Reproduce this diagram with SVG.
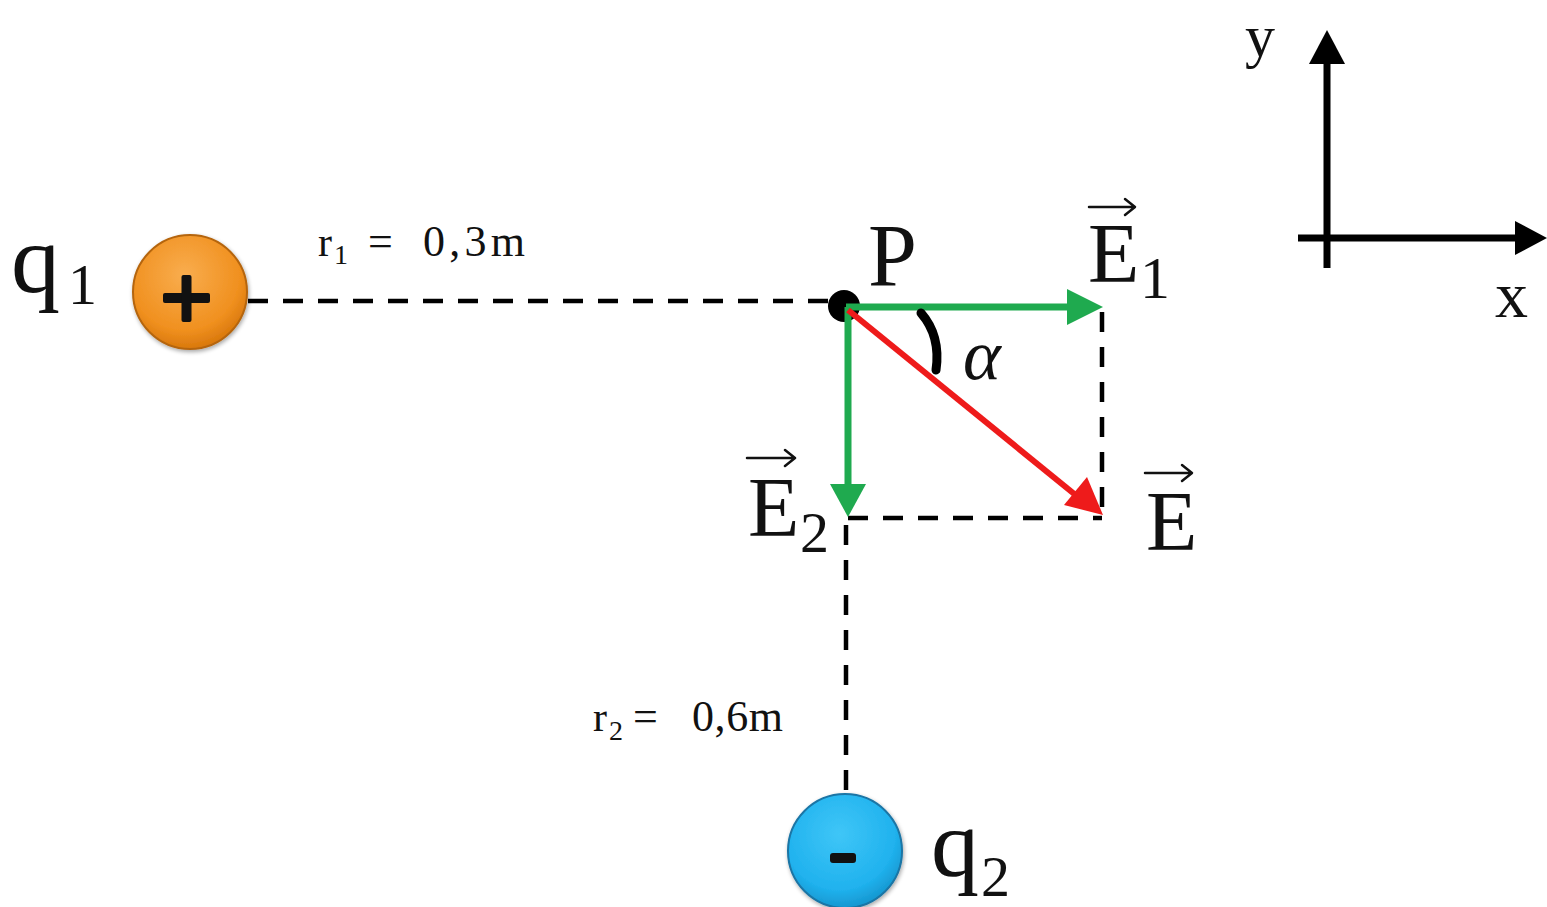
<svg xmlns="http://www.w3.org/2000/svg" width="1547" height="907" viewBox="0 0 1547 907">
  <defs>
    <radialGradient id="gOrange" cx="0.45" cy="0.35" r="0.65">
      <stop offset="0" stop-color="#f9ad4e"/>
      <stop offset="0.75" stop-color="#f0901f"/>
      <stop offset="1" stop-color="#d9780c"/>
    </radialGradient>
    <radialGradient id="gBlue" cx="0.45" cy="0.35" r="0.65">
      <stop offset="0" stop-color="#3fc6f7"/>
      <stop offset="0.75" stop-color="#20b2ee"/>
      <stop offset="1" stop-color="#1697d0"/>
    </radialGradient>
    <filter id="shadow" x="-20%" y="-20%" width="140%" height="140%">
      <feGaussianBlur in="SourceAlpha" stdDeviation="2"/>
      <feOffset dx="1" dy="2" result="b"/>
      <feComponentTransfer><feFuncA type="linear" slope="0.35"/></feComponentTransfer>
      <feMerge><feMergeNode/><feMergeNode in="SourceGraphic"/></feMerge>
    </filter>
  </defs>
  <style>
    .t { font-family: "Liberation Serif", "DejaVu Serif", serif; fill: #111; }
    .dash { stroke: #000; stroke-width: 4.5; stroke-dasharray: 20 15; fill: none; }
    .green { stroke: #1faa4f; stroke-width: 7; fill: none; }
    .greenHead { fill: #1faa4f; }
    .red { stroke: #ee1b1b; stroke-width: 6; fill: none; }
    .redHead { fill: #ee1b1b; }
    .axis { stroke: #000; stroke-width: 7; fill: none; }
    .vec { stroke: #111; stroke-width: 2.5; fill: none; stroke-linecap: round; stroke-linejoin: round; }
  </style>
  <rect width="1547" height="907" fill="#fff"/>

  <g id="connectors">
    <line class="dash" x1="248" y1="301" x2="836" y2="301"/>
    <line class="dash" x1="1102" y1="312" x2="1102" y2="518"/>
    <line class="dash" x1="848" y1="518" x2="1102" y2="518"/>
    <line class="dash" x1="846" y1="525" x2="846" y2="795"/>
  </g>

  <g id="q1">
    <circle cx="190" cy="292" r="57" fill="url(#gOrange)" stroke="#b5650f" stroke-width="2" filter="url(#shadow)"/>
    <rect x="163" y="293" width="47" height="10" rx="2" fill="#111"/>
    <rect x="181.5" y="275" width="10" height="47" rx="2" fill="#111"/>
    <text class="t" x="11" y="292" font-size="98">q</text>
    <text class="t" x="68" y="304" font-size="58">1</text>
  </g>

  <g id="r1-label">
    <text class="t" x="318" y="256" font-size="42">r</text>
    <text class="t" x="334" y="264" font-size="28">1</text>
    <text class="t" x="368" y="256" font-size="44">=</text>
    <text class="t" x="423" y="256" font-size="44" textLength="102">0,3m</text>
  </g>

  <g id="P">
    <circle cx="844" cy="306" r="16" fill="#000"/>
    <text class="t" x="868" y="285" font-size="88">P</text>
  </g>

  <g id="E1">
    <line class="green" x1="846" y1="307" x2="1070" y2="307"/>
    <polygon class="greenHead" points="1103,307 1067,289 1067,325"/>
    <text class="t" x="1088" y="282" font-size="84">E</text>
    <text class="t" x="1140" y="298" font-size="60">1</text>
    <path class="vec" d="M1089 207 H1134 M1125 199 L1135 207 L1125 215"/>
  </g>

  <g id="E2">
    <line class="green" x1="848" y1="307" x2="848" y2="488"/>
    <polygon class="greenHead" points="848,517 830,484 866,484"/>
    <text class="t" x="748" y="536" font-size="84">E</text>
    <text class="t" x="800" y="552" font-size="58">2</text>
    <path class="vec" d="M747 458 H794 M785 450 L795 458 L785 466"/>
  </g>

  <g id="E">
    <line class="red" x1="848" y1="310" x2="1078" y2="497"/>
    <polygon class="redHead" points="1103,515 1064,505 1087,477"/>
    <text class="t" x="1146" y="550" font-size="84">E</text>
    <path class="vec" d="M1145 473 H1191 M1182 465 L1192 473 L1182 481"/>
  </g>

  <g id="alpha">
    <path d="M921 313 Q941 336 936 370" stroke="#000" stroke-width="9" fill="none" stroke-linecap="round"/>
    <text class="t" x="963" y="379" font-size="72" font-style="italic">α</text>
  </g>

  <g id="r2-label">
    <text class="t" x="593" y="731" font-size="42">r</text>
    <text class="t" x="609" y="740" font-size="28">2</text>
    <text class="t" x="633" y="731" font-size="44">=</text>
    <text class="t" x="692" y="731" font-size="44" textLength="91">0,6m</text>
  </g>

  <g id="q2">
    <circle cx="845" cy="851" r="57" fill="url(#gBlue)" stroke="#1a75a5" stroke-width="2" filter="url(#shadow)"/>
    <rect x="830" y="853" width="26" height="10" rx="3" fill="#111"/>
    <text class="t" x="931" y="876" font-size="96">q</text>
    <text class="t" x="981" y="896" font-size="58">2</text>
  </g>

  <g id="axes">
    <line class="axis" x1="1327" y1="268" x2="1327" y2="60"/>
    <polygon points="1327,30 1309,64 1345,64" fill="#000"/>
    <line class="axis" x1="1298" y1="238" x2="1520" y2="238"/>
    <polygon points="1547,238 1515,221 1515,255" fill="#000"/>
    <text class="t" x="1245" y="56" font-size="60">y</text>
    <text class="t" x="1495" y="317" font-size="66">x</text>
  </g>
</svg>
